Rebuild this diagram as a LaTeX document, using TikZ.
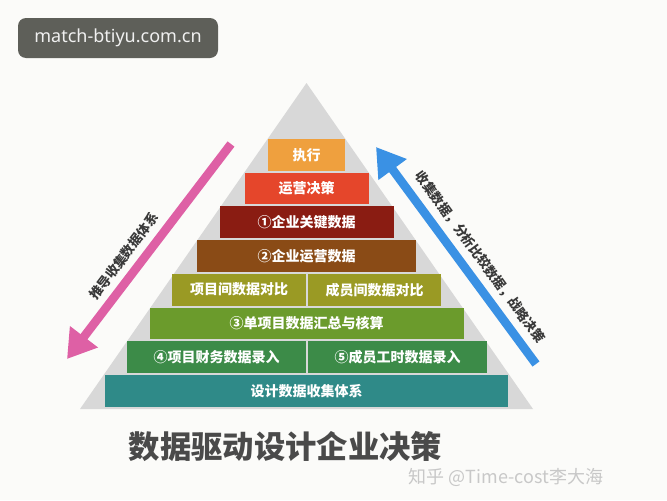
\documentclass[tikz,border=0pt]{standalone}
\usepackage{fontspec}
\setmainfont{Noto Sans}
\newfontfamily\cjk{Noto Sans CJK SC}
\usetikzlibrary{arrows.meta}

\definecolor{cBg}{HTML}{FBFBF9}
\definecolor{cTri}{HTML}{D8D8D8}
\definecolor{cBadge}{HTML}{5E5F59}
\definecolor{cZhixing}{HTML}{EFA03E}
\definecolor{cYunying}{HTML}{E5462B}
\definecolor{cGuanjian}{HTML}{8A1C12}
\definecolor{cYingyun}{HTML}{8A4B16}
\definecolor{cDuibi}{HTML}{9A9A24}
\definecolor{cHuizong}{HTML}{6B9B2C}
\definecolor{cLuru}{HTML}{3C8B48}
\definecolor{cTixi}{HTML}{2F8A88}
\definecolor{cPink}{HTML}{DE60A5}
\definecolor{cBlue}{HTML}{3A91E4}
\definecolor{cLabel}{HTML}{3A3A3A}
\definecolor{cTitle}{HTML}{4A4A4A}
\definecolor{cMark}{HTML}{C8C8C8}

\begin{document}
\begin{tikzpicture}[x=0.75pt, y=-0.75pt,
    layer/.style={fill=#1, text=white, inner sep=0pt, minimum height=23.8pt,
      font=\cjk\bfseries\fontsize{10.5}{12}\selectfont},
    sidelabel/.style={text=cLabel, inner sep=0pt, font=\cjk\bfseries\fontsize{9.8}{11}\selectfont},
    bigarrow/.style={draw=#1, line width=6.5pt, -{Triangle[width=25pt, length=21pt]}}]
        \useasboundingbox (0, 0) rectangle (667, 500);
        \fill [cBg] (0, 0) rectangle (667, 500);

        \coordinate (apex) at (306.5, 83);
        \coordinate (baseL) at (80, 409);
        \coordinate (baseR) at (533, 409);
        \fill [cTri] (apex) -- (baseL) -- (baseR) -- cycle;

        \foreach \i / \w / \c / \t in {0/77/cZhixing/执行, 1/124/cYunying/运营决策,
          2/174/cGuanjian/①企业关键数据, 3/219/cYingyun/②企业运营数据,
          5/314/cHuizong/③单项目数据汇总与核算, 7/403/cTixi/设计数据收集体系}{
          \node [layer=\c, minimum width=\w*0.75pt] (layer\i) at (306.5, {154.9 + 33.7 * \i}) {\t};
        }

        \node [layer=cDuibi, minimum width=101.2pt] (layer4a) at (239, 289.7) {项目间数据对比};
        \node [layer=cDuibi, minimum width=100.1pt] (layer4b) at (374.5, 289.7) {成员间数据对比};
        \node [layer=cLuru, minimum width=134.5pt] (layer6a) at (216.5, 357.1) {④项目财务数据录入};
        \node [layer=cLuru, minimum width=134.5pt] (layer6b) at (397.5, 357.1) {⑤成员工时数据录入};

        \coordinate (pinkTail) at (231, 144);
        \coordinate (pinkTip) at (67, 359);
        \draw [bigarrow=cPink] (pinkTail) -- (pinkTip);
        \node [sidelabel, rotate=52.7] (pushLabel) at (124, 256) {推导收集数据体系};

        \coordinate (blueTail) at (536, 364);
        \coordinate (blueTip) at (376, 147);
        \draw [bigarrow=cBlue] (blueTail) -- (blueTip);
        \node [sidelabel, rotate=-53.7] (pullLabel) at (480, 257) {收集数据，分析比较数据，战略决策};

        \node [text=cTitle, font=\cjk\bfseries\fontsize{23.5}{28}\selectfont] (title) at (285.5, 447) {数据驱动设计企业决策};
        \node [text=cMark, font=\cjk\fontsize{13.5}{16}\selectfont] (mark) at (506, 477) {知乎 @Time-cost李大海};

        \node [fill=cBadge, rounded corners=6pt, minimum width=150pt, minimum height=30pt,
          text=white!94!black, font=\fontsize{13.5}{16}\selectfont] (badge) at (118, 38) {match-btiyu.com.cn};
      \end{tikzpicture}
\end{document}
